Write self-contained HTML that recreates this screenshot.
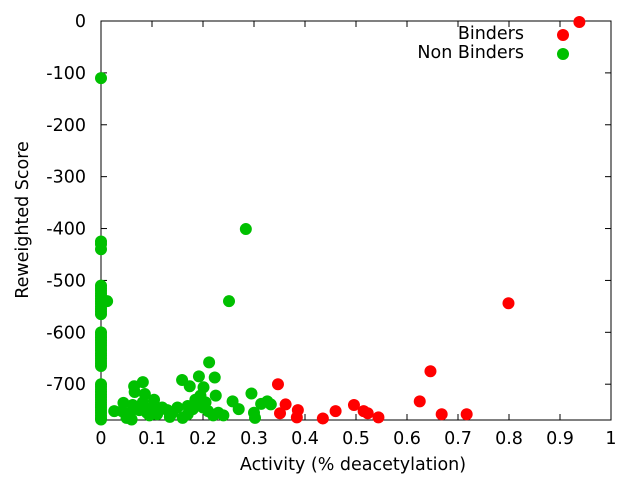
<!DOCTYPE html>
<html><head><meta charset="utf-8"><style>
body{margin:0;background:#fff}
svg text{font-family:"DejaVu Sans","Liberation Sans",sans-serif;font-size:17.5px;fill:#000}
</style></head><body>
<svg id="chart" width="640" height="480" xmlns="http://www.w3.org/2000/svg">
<g id="axes"></g><g id="marks"></g><g id="legend"></g>
</svg>
<script>
const xTicks=[0,0.1,0.2,0.3,0.4,0.5,0.6,0.7,0.8,0.9,1];
const xTickLabels=["0","0.1","0.2","0.3","0.4","0.5","0.6","0.7","0.8","0.9","1"];
const yTicks=[0,-100,-200,-300,-400,-500,-600,-700];
const yTickLabels=["0","-100","-200","-300","-400","-500","-600","-700"];
const bindersX=[0.938,0.799,0.646,0.347,0.351,0.362,0.386,0.384,0.435,0.460,0.496,0.515,0.523,0.544,0.625,0.668,0.717];
const bindersY=[-2,-544,-675,-700,-756,-739,-750,-764,-766,-752,-740,-752,-756,-764,-733,-758,-758];
const zeroY=[-110,-425,-430,-440,-510,-515,-520,-525,-530,-535,-540,-545,-550,-555,-560,-565,-600,-605,-610,-615,-620,-625,-630,-635,-640,-645,-650,-655,-660,-665,-700,-705,-710,-715,-720,-725,-730,-735,-740,-745,-750,-755,-760,-765,-768];
const nonX=[0.012,0.284,0.251,0.212,0.223,0.192,0.159,0.174,0.201,0.082,0.065,0.066,0.086,0.295,0.225,0.326,0.258,0.333,0.314,0.104,0.082,0.044,0.062,0.041,0.026,0.057,0.075,0.095,0.120,0.140,0.160,0.170,0.180,0.190,0.200,0.210,0.220,0.230,0.240,0.270,0.300,0.302,0.150,0.130,0.110,0.050,0.060,0.090,0.185,0.195,0.205,0.170,0.100,0.135];
const nonY=[-540,-401,-540,-658,-687,-685,-692,-704,-706,-696,-704,-715,-719,-718,-722,-733,-733,-739,-738,-730,-735,-736,-740,-752,-752,-755,-750,-760,-745,-755,-765,-758,-748,-740,-745,-752,-760,-755,-760,-748,-755,-765,-745,-750,-758,-765,-768,-755,-730,-722,-735,-742,-745,-763];
const NS="http://www.w3.org/2000/svg";
const L=101,R=611,T=21,B=420,YMIN=-769;
const sx=v=>L+v*(R-L);
const sy=v=>T+(v/YMIN)*(B-T);
function mk(tag,at,parent){const e=document.createElementNS(NS,tag);for(const k in at)e.setAttribute(k,at[k]);document.getElementById(parent).appendChild(e);return e;}
const frame=mk('rect',{x:L,y:T,width:R-L,height:B-T,fill:'none',stroke:'#000','stroke-width':1},'axes');


xTicks.forEach((v,i)=>{
 const x=sx(v);
 mk('line',{x1:x,y1:B,x2:x,y2:B-6,stroke:'#000'},'axes');
 mk('line',{x1:x,y1:T,x2:x,y2:T+6,stroke:'#000'},'axes');
 const t=mk('text',{x:x,y:B+24,'text-anchor':'middle'},'axes');t.textContent=xTickLabels[i];
 
 
});
yTicks.forEach((v,i)=>{
 const y=sy(v);
 mk('line',{x1:L,y1:y,x2:L+6,y2:y,stroke:'#000'},'axes');
 mk('line',{x1:R,y1:y,x2:R-6,y2:y,stroke:'#000'},'axes');
 const t=mk('text',{x:86,y:y+6,'text-anchor':'end'},'axes');t.textContent=yTickLabels[i];
 
 
});
const xt=mk('text',{x:353,y:470,'text-anchor':'middle'},'axes');xt.textContent='Activity (% deacetylation)';


const yt=mk('text',{x:0,y:0,'text-anchor':'middle',transform:'translate(28,220) rotate(-90)'},'axes');yt.textContent='Reweighted Score';


function dot(x,y,c,name){const d=mk('circle',{cx:x,cy:y,r:6,fill:c},'marks');
 
 }
zeroY.forEach(v=>dot(sx(0),sy(v),'#00c000','non-binder-point'));
nonX.forEach((v,i)=>dot(sx(v),sy(nonY[i]),'#00c000','non-binder-point'));
bindersX.forEach((v,i)=>dot(sx(v),sy(bindersY[i]),'#ff0000','binder-point'));
const l1=mk('text',{x:524,y:39,'text-anchor':'end'},'legend');l1.textContent='Binders';


const l2=mk('text',{x:524,y:58,'text-anchor':'end'},'legend');l2.textContent='Non Binders';


dot(563,35,'#ff0000','legend-binders-marker');
dot(563,54,'#00c000','legend-non-binders-marker');
</script>
</body></html>
